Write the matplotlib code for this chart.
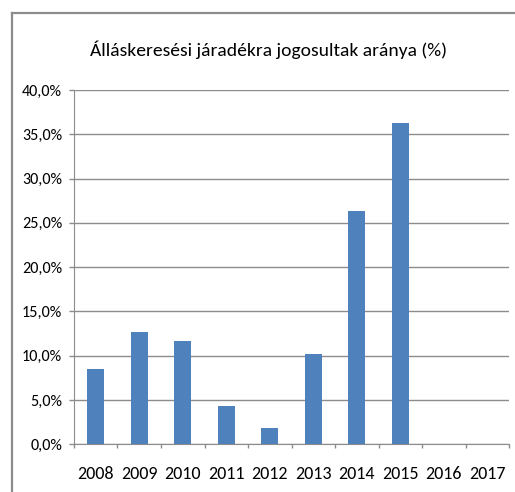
import numpy as np
import matplotlib
matplotlib.use('Agg')
import matplotlib.pyplot as plt
from matplotlib.ticker import FuncFormatter, MultipleLocator
from matplotlib.lines import Line2D

years = ['2008', '2009', '2010', '2011', '2012', '2013', '2014', '2015', '2016', '2017']
arany = [8.5, 12.7, 11.7, 4.3, 1.8, 10.2, 26.3, 36.3, np.nan, np.nan]

plt.rcParams['font.family'] = ['Carlito', 'DejaVu Sans']

szurke = '#8c8c8c'
fig = plt.figure(figsize=(5.15, 4.92), dpi=100)
ax = fig.add_axes([74/515, 1-444.3/492, (509-74)/515, (444.3-90)/492])

x = np.arange(len(years))
ax.bar(x, arany, width=0.4, color='#4F81BD', zorder=3)

ax.set_xlim(-0.5, len(years)-0.5)
ax.set_ylim(0, 40)
ax.yaxis.set_major_locator(MultipleLocator(5))
ax.yaxis.set_major_formatter(FuncFormatter(lambda v, p: f'{v:.1f}%'.replace('.', ',')))
ax.grid(axis='y', color=szurke, linewidth=1, zorder=0)

# feliratok a kategóriák közepén, osztóvonalak a határokon
ax.set_xticks(x)
ax.set_xticklabels(years)
ax.set_xticks(np.arange(-0.5, len(years)), minor=True)
ax.tick_params(axis='x', which='major', length=0, pad=15.5, labelsize=13, colors='black')
ax.tick_params(axis='x', which='minor', length=3, width=1, color=szurke)
ax.tick_params(axis='y', length=3.6, width=1, color=szurke, pad=5, labelsize=11.6)

for s in ['top', 'right']:
    ax.spines[s].set_visible(False)
ax.spines['left'].set_color(szurke)
ax.spines['bottom'].set_color(szurke)

fig.text(268.5/515, 1-56/492, 'Álláskeresési járadékra jogosultak aránya (%)',
         ha='center', va='baseline', fontsize=14)

# keret
fig.add_artist(Line2D([12/515, 1], [1-13/492, 1-13/492], color=szurke, linewidth=1.6))
fig.add_artist(Line2D([12/515, 12/515], [0, 1-13/492], color=szurke, linewidth=1.6))

fig.savefig('out.png', dpi=100)
